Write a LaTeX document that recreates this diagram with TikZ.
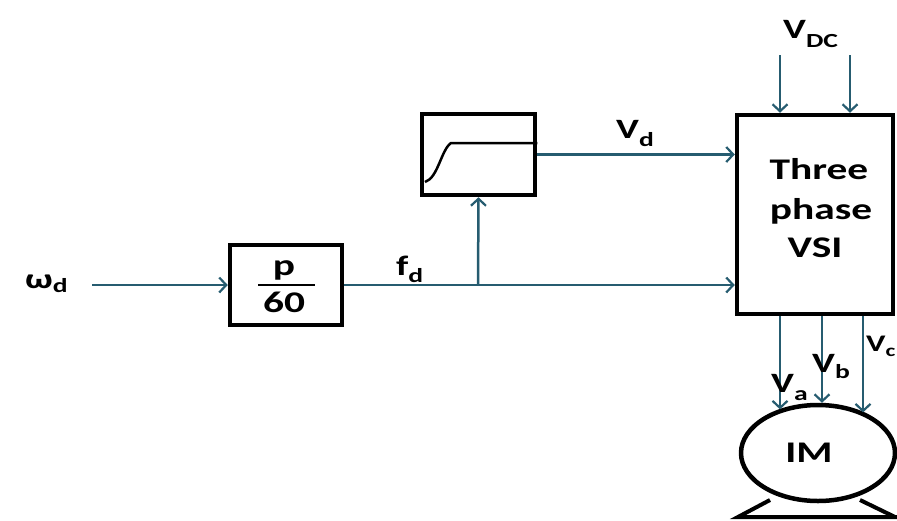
\documentclass[tikz,border=0pt]{standalone}
\usepackage{fontspec}
\setmainfont{Carlito}
\usetikzlibrary{arrows.meta,shapes.geometric}
\definecolor{conncol}{RGB}{38,92,112}
\newcommand\lab[3][7pt]{\scalebox{1.38}[1]{\fontsize{28}{30}\selectfont\bfseries #2\raisebox{-#1}{\fontsize{20}{22}\selectfont #3}}}
\newcommand\wtxt[1]{\scalebox{1.38}[1]{\fontsize{30}{31}\selectfont\bfseries #1}}
\begin{document}
\begin{tikzpicture}[x=1pt,y=-1pt,
  blk/.style={draw=black, line width=4.5pt, inner sep=0pt, fill=white},
  conn/.style={draw=conncol, line width=2.5pt, -{Straight Barb[length=7pt,width=15pt,line width=2.2pt]}},
  txt/.style={inner sep=0pt, anchor=base, text=black},
  lbl/.style={inner sep=0pt, anchor=base west, text=black},
  body/.style={draw=black, line width=4pt}
]
\useasboundingbox (0,0) rectangle (897,520);
% blocks
\node[blk, minimum width=112pt, minimum height=80pt] (p60) at (286,285) {};
\node[txt] (pnum) at (284,275) {\wtxt{p}};
\node[txt] (pden) at (284,312) {\wtxt{60}};
\draw[line width=2pt] (258,285) -- (315,285);
\node[blk, minimum width=113pt, minimum height=81pt] (lim) at (478.5,154.5) {};
\draw[line width=2.5pt] (425,182) .. controls (438,178) and (441,150) .. (451,143) -- (lim.east |- 0,143);
\node[blk, minimum width=156pt, minimum height=199pt] (vsi) at (815,214.5) {};
\node[txt] (t1) at (819,179) {\wtxt{Three}};
\node[txt] (t2) at (821,219) {\wtxt{phase}};
\node[txt] (t3) at (815,257) {\wtxt{VSI}};
% motor
\draw[body] (770,500) -- (738,517) -- (897,517);
\draw[body] (860,500) -- (895,517);
\node[draw=black, line width=4.5pt, ellipse, fill=white, minimum width=154pt, minimum height=96pt, inner sep=0pt] (im) at (818,453) {};
\node[txt] (imtxt) at (809,462) {\wtxt{IM}};
% connectors
\coordinate (wstart) at (92,285);
\draw[conn] (wstart) -- (p60.west);
\draw[conn] (p60.east) -- (p60.east -| vsi.west);
\coordinate (br) at (478,285);
\draw[conn] (br) -- (lim.south);
\draw[conn] (lim.east) -- (lim.east -| vsi.west);
\coordinate (dc1) at (780,55);
\coordinate (dc2) at (850,55);
\draw[conn] (dc1) -- (dc1 |- vsi.north);
\draw[conn] (dc2) -- (dc2 |- vsi.north);
\coordinate (oa) at (vsi.south -| 780,0);
\coordinate (ob) at (vsi.south -| 822,0);
\coordinate (oc) at (vsi.south -| 863,0);
\draw[conn] (oa) -- (oa |- im.132);
\draw[conn] (ob) -- (ob |- im.87);
\draw[conn] (oc) -- (oc |- im.41);
% labels
\node[lbl] (lw) at (25,288) {\lab[4pt]{ω}{d}};
\node[lbl] (lf) at (396,275) {\lab{f}{d}};
\node[lbl] (lvd) at (616,138) {\lab[8pt]{V}{d}};
\node[lbl] (lvdc) at (783,38) {\lab[9pt]{V}{DC}};
\node[lbl] (lva) at (771,392) {\lab[8pt]{V}{a}};
\node[lbl] (lvb) at (812,372) {\lab[6pt]{V}{b}};
\node[lbl, scale=0.85] (lvc) at (866,351) {\lab[6pt]{V}{c}};
\end{tikzpicture}
\end{document}
